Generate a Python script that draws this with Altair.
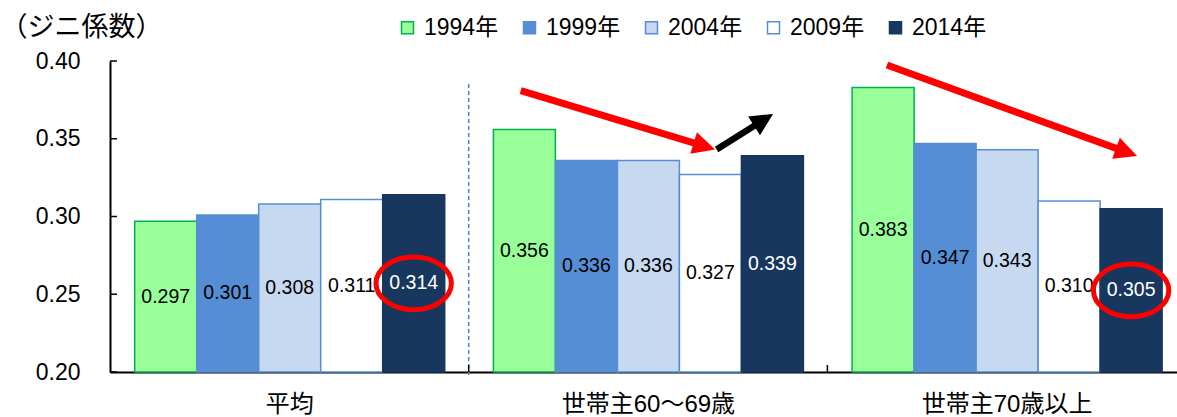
import altair as alt
import pandas as pd

# Gini coefficient by household group and survey year
groups = ["平均", "世帯主60～69歳", "世帯主70歳以上"]
years = ["1994年", "1999年", "2004年", "2009年", "2014年"]
gini_1994 = [0.297, 0.356, 0.383]
gini_1999 = [0.301, 0.336, 0.347]
gini_2004 = [0.308, 0.336, 0.343]
gini_2009 = [0.311, 0.327, 0.310]
gini_2014 = [0.314, 0.339, 0.305]
series = [gini_1994, gini_1999, gini_2004, gini_2009, gini_2014]

# Values singled out with a red ring
circled = [("平均", "2014年"), ("世帯主70歳以上", "2014年")]

y_ticks = [0.20, 0.25, 0.30, 0.35, 0.40]

fill_colors = ["#99FF99", "#558ED5", "#C6D9F1", "#FFFFFF", "#17375E"]
stroke_colors = ["#00B050", "#558ED5", "#558ED5", "#558ED5", "#17375E"]

# Trend arrows, in group-slot units (x) and Gini units (y)
arrow_x0 = [1.145, 1.691, 2.166]
arrow_y0 = [0.3809, 0.3431, 0.3974]
arrow_x1 = [1.657, 1.822, 2.834]
arrow_y1 = [0.3452, 0.3621, 0.3414]
arrow_angle = [17, 328, 20]
arrow_color = ["#FF0000", "#000000", "#FF0000"]
arrow_width = [7, 6.5, 7]

# Group boundaries on the x axis (slot units)
boundaries = [1.0, 2.0]

NUM_FONT = "Liberation Sans, Noto Sans CJK JP, sans-serif"
W, H = 1067, 311
SLOT_SPAN = W / 358.7

rows = []
for yi, yr in enumerate(years):
    for gi, g in enumerate(groups):
        rows.append({"group": g, "year": yr, "value": series[yi][gi],
                     "circled": (g, yr) in circled})
df = pd.DataFrame(rows)

arrows = pd.DataFrame({"x0": arrow_x0, "y0": arrow_y0, "x1": arrow_x1, "y1": arrow_y1,
                       "ang": arrow_angle, "c": arrow_color, "w": arrow_width})
bounds = pd.DataFrame({"u": boundaries})
ticks_df = pd.DataFrame({"t": y_ticks})

xband = alt.Scale(paddingInner=0.1358, paddingOuter=0.0552, align=0.624)
xoff = alt.Scale(paddingInner=0, paddingOuter=0)
yscale = alt.Scale(domain=[0.2, 0.4], nice=False, zero=False)
uscale = alt.Scale(domain=[0, SLOT_SPAN], nice=False, zero=False)

legend = alt.Legend(
    title=None, orient="none", legendX=286, legendY=-45, direction="horizontal",
    columns=5, symbolType="square", symbolSize=144, symbolStrokeWidth=1.5,
    labelFontSize=23, labelFont=NUM_FONT, labelColor="#000000", labelOffset=5,
    columnPadding=19, padding=0,
)

base = alt.Chart(df)

bars = base.mark_bar(strokeWidth=1.5).encode(
    x=alt.X("group:N", sort=groups, scale=xband, title=None,
            axis=alt.Axis(ticks=False, labelAngle=0, labelFontSize=24, labelFont=NUM_FONT,
                          labelColor="#000000", labelPadding=20, domainColor="#000000",
                          domainWidth=2)),
    xOffset=alt.XOffset("year:N", sort=years, scale=xoff),
    y=alt.Y("value:Q", scale=yscale,
            axis=alt.Axis(values=y_ticks, format=".2f", ticks=False, labelPadding=30,
                          labelFontSize=23, labelFont=NUM_FONT, labelColor="#000000",
                          domainColor="#000000", domainWidth=2,
                          title="（ジニ係数）", titleAngle=0, titleX=-110, titleY=-34,
                          titleAlign="left", titleBaseline="middle", titleFontSize=27,
                          titleFont=NUM_FONT, titleFontWeight="normal", titleColor="#000000")),
    y2=alt.datum(0.2),
    fill=alt.Fill("year:N", sort=years, scale=alt.Scale(domain=years, range=fill_colors),
                  legend=legend),
    stroke=alt.Stroke("year:N", sort=years, scale=alt.Scale(domain=years, range=stroke_colors),
                      legend=legend),
)

labels = base.transform_calculate(mid="(0.2 + datum.value) / 2").mark_text(
    fontSize=19.5, font=NUM_FONT, baseline="middle", align="center"
).encode(
    x=alt.X("group:N", sort=groups, scale=xband, title=None),
    xOffset=alt.XOffset("year:N", sort=years, scale=xoff),
    y=alt.Y("mid:Q", scale=yscale),
    text=alt.Text("value:Q", format=".3f"),
    color=alt.condition(alt.datum.year == "2014年", alt.value("#FFFFFF"), alt.value("#000000")),
)

ELLIPSE = "M-1,0A1,0.7 0 1,1 1,0A1,0.7 0 1,1 -1,0Z"
rings = base.transform_filter(alt.datum.circled).transform_calculate(
    mid="(0.2 + datum.value) / 2"
).mark_point(shape=ELLIPSE, size=5685, filled=False, stroke="#FF0000", strokeWidth=5,
             opacity=1).encode(
    x=alt.X("group:N", sort=groups, scale=xband, title=None),
    xOffset=alt.XOffset("year:N", sort=years, scale=xoff),
    y=alt.Y("mid:Q", scale=yscale),
)

main = alt.layer(bars, labels, rings)

separator = alt.Chart(bounds).transform_filter(alt.datum.u == 1).mark_rule(
    color="#4F81BD", strokeWidth=1.5, strokeDash=[4, 3]
).encode(
    x=alt.X("u:Q", scale=uscale, axis=None),
    y=alt.datum(0.3852),
    y2=alt.datum(0.1968),
)

xticks = alt.Chart(bounds).mark_rule(color="#000000", strokeWidth=1.5).encode(
    x=alt.X("u:Q", scale=uscale, axis=None),
    y=alt.datum(0.2),
    y2=alt.datum(0.2045),
)

shafts = alt.Chart(arrows).mark_rule(strokeCap="butt").encode(
    x=alt.X("x0:Q", scale=uscale, axis=None),
    x2="x1:Q",
    y=alt.Y("y0:Q", scale=yscale),
    y2="y1:Q",
    color=alt.Color("c:N", scale=None),
    strokeWidth=alt.StrokeWidth("w:Q", scale=None),
)

TRIANGLE = "M-1,-1L1,0L-1,1Z"
heads = alt.Chart(arrows).mark_point(shape=TRIANGLE, size=500, filled=True, opacity=1).encode(
    x=alt.X("x1:Q", scale=uscale, axis=None),
    y=alt.Y("y1:Q", scale=yscale),
    color=alt.Color("c:N", scale=None),
    angle=alt.Angle("ang:Q", scale=None),
)

yticks = alt.Chart(ticks_df).mark_rule(color="#000000", strokeWidth=1.5).encode(
    y=alt.Y("t:Q", scale=yscale),
    x=alt.value(0),
    x2=alt.value(7),
)

chart = alt.layer(main, separator, xticks, shafts, heads, yticks).resolve_scale(
    x="independent"
).properties(
    width=W, height=H,
    autosize=alt.AutoSizeParams(type="none"),
    padding={"left": 110, "top": 61, "right": 0, "bottom": 45},
).configure_view(stroke=None).configure_axis(grid=False)

chart.save("out.html", embed_options={"renderer": "svg", "actions": False})
